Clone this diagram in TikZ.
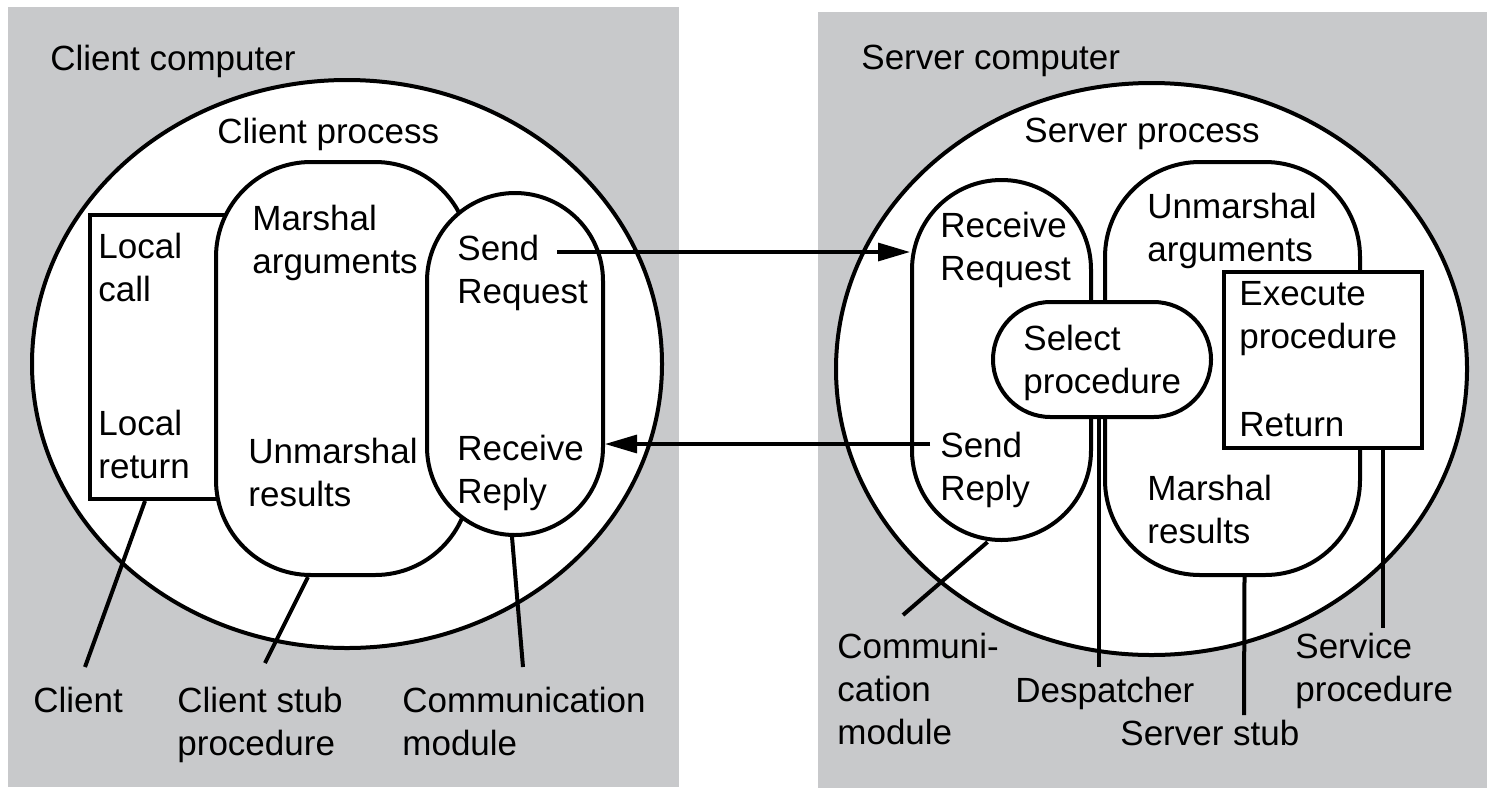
\documentclass[tikz,border=0pt]{standalone}
\usepackage{fontspec}
\setmainfont{Liberation Sans}
\usepackage{tikz}
\usetikzlibrary{arrows.meta,shapes.geometric,calc}

\definecolor{panelgray}{RGB}{200,201,203}

\begin{document}
\begin{tikzpicture}[x=0.5pt, y=-0.5pt,
    every node/.style={font=\fontsize{17.5pt}{21.5pt}\selectfont},
    lbl/.style={inner sep=0pt, anchor=north west, align=left},
    proc/.style={ellipse, draw, line width=2pt, fill=white, inner sep=0pt},
    roundbox/.style={draw, line width=2pt, fill=white, inner sep=0pt, rounded corners=#1},
    plainbox/.style={draw, line width=2pt, fill=white, inner sep=0pt},
    leader/.style={line width=2pt},
    msg/.style={line width=1.6pt, -{Triangle[length=16pt, width=9pt]}}]
    \useasboundingbox (0,0) rectangle (1487,788);

    % the two computers
    \fill[panelgray] (8,7) rectangle (679,787);
    \fill[panelgray] (818,12) rectangle (1487,788);
    \node (ccomputer) [lbl] at (50,44.5) {Client computer};
    \node (scomputer) [lbl] at (861,44.5) {Server computer};

    % client side
    \node (cproc) [proc, minimum width=315pt, minimum height=284pt] at (347,364) {};
    \node (cprocname) [lbl] at (217,117.5) {Client process};
    \node (localbox) [plainbox, minimum width=75pt, minimum height=142pt] at (165,357) {};
    \node (cstub) [roundbox=47.5pt, minimum width=127pt, minimum height=206.5pt] at (343,368.5) {};
    \node (ccomm) [roundbox=44pt, minimum width=88pt, minimum height=171pt] at (515,364) {};

    \node (localcall) [lbl] at (98,232.5) {Local\\call};
    \node (localret) [lbl] at (98,409.5) {Local\\return};
    \node (marshargs) [lbl] at (252,204.5) {Marshal\\arguments};
    \node (unmarshres) [lbl] at (248,437.5) {Unmarshal\\results};
    \node (sendreq) [lbl] at (457,234.5) {Send\\Request};
    \node (recvrep) [lbl] at (457,434.5) {Receive\\Reply};

    % server side
    \node (sproc) [proc, minimum width=315.5pt, minimum height=286pt] at (1151.5,369) {};
    \node (sprocname) [lbl] at (1024,117.5) {Server process};
    \node (scomm) [roundbox=44.75pt, minimum width=89.5pt, minimum height=180pt] at (1001.5,360) {};
    \node (sstub) [roundbox=47.5pt, minimum width=127.5pt, minimum height=206.5pt] at (1232.5,368.5) {};
    \node (select) [roundbox=28.75pt, minimum width=109pt, minimum height=57.5pt] at (1102,359.5) {};
    \node (execbox) [plainbox, minimum width=99pt, minimum height=88pt] at (1323,360) {};

    \node (recvreq) [lbl] at (940,211.5) {Receive\\Request};
    \node (sendrep) [lbl] at (940,431.5) {Send\\Reply};
    \node (unmarshargs) [lbl] at (1147,192.5) {Unmarshal\\arguments};
    \node (selproc) [lbl] at (1023,324.5) {Select\\procedure};
    \node (execproc) [lbl] at (1239,281.5) {Execute\\procedure};
    \node (retn) [lbl] at (1239,412.5) {Return};
    \node (marshres) [lbl] at (1147,474.5) {Marshal\\results};

    % request and reply
    \coordinate (sendpt) at (557,252);
    \coordinate (replypt) at (930,444);
    \draw[msg] (sendpt) -- (sendpt -| scomm.west);
    \draw[msg] (replypt) -- (replypt -| ccomm.east);

    % names underneath
    \node (client) [lbl] at (33,686.5) {Client};
    \node (cstubname) [lbl] at (177,686.5) {Client stub\\procedure};
    \node (ccommname) [lbl] at (402,686.5) {Communication\\module};
    \node (scommname) [lbl] at (837,632.5) {Communi-\\cation\\module};
    \node (despatcher) [lbl] at (1015,676.5) {Despatcher};
    \node (sstubname) [lbl] at (1120,719.5) {Server stub};
    \node (service) [lbl] at (1295,632.5) {Service\\procedure};

    \coordinate (clientend) at (85,667);
    \coordinate (cstubend) at (265,663);
    \coordinate (ccommend) at (523,667);
    \coordinate (scommend) at (903,615);
    \coordinate (despend) at (1099,667);
    \coordinate (sstubend) at (1244,715);
    \coordinate (serviceend) at (1383,628);

    \draw[leader] ([xshift=-10pt]localbox.south) -- (clientend);
    \draw[leader] ([xshift=-17.5pt]cstub.south) -- (cstubend);
    \draw[leader] ([xshift=-1.5pt]ccomm.south) -- (ccommend);
    \draw[leader] ([xshift=-7pt]scomm.south) -- (scommend);
    \draw[leader] ([xshift=-1.5pt]select.south) -- (despend);
    \draw[leader] ([xshift=6pt]sstub.south) -- (sstubend);
    \draw[leader] ([xshift=30pt]execbox.south) -- (serviceend);
\end{tikzpicture}
\end{document}
